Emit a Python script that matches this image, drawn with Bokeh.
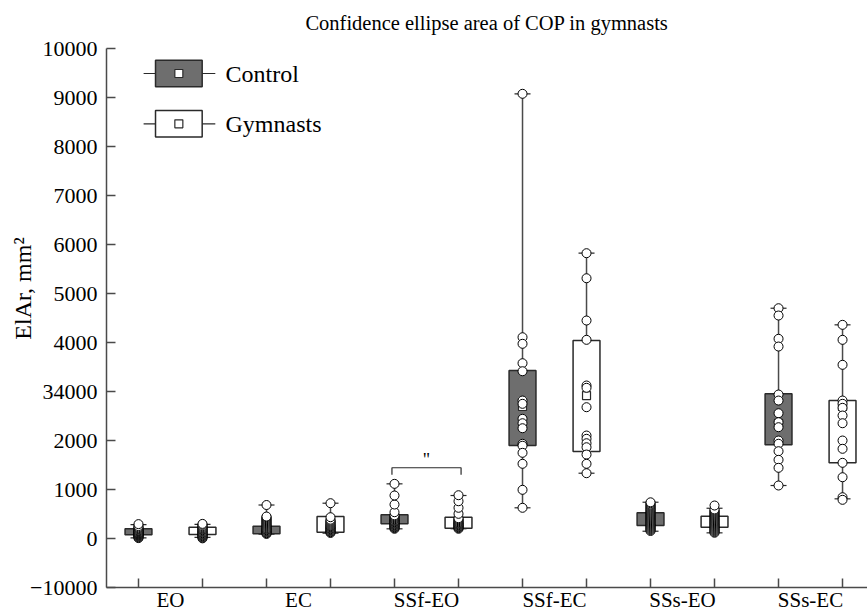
from math import pi
from bokeh.plotting import figure
from bokeh.models import Range1d, FixedTicker, Label
from bokeh.embed import file_html
from bokeh.resources import INLINE

# ---------------- data ----------------
groups = ["EO", "EC", "SSf-EO", "SSf-EC", "SSs-EO", "SSs-EC"]
series = ["Control", "Gymnasts"]

# one entry per box, ordered: group0-Control, group0-Gymnasts, group1-Control, ...
q1 = [85, 90, 102, 135, 306, 216, 1904, 1782, 271, 237, 1918, 1551]
q3 = [205, 235, 257, 455, 490, 441, 3435, 4047, 531, 461, 2959, 2822]
lo = [20, 30, 95, 115, 204, 206, 633, 1339, 155, 122, 1088, 816]
hi = [290, 295, 690, 727, 1122, 884, 9082, 5829, 747, 624, 4706, 4367]
mean = [150, 160, 200, 280, 380, 320, 2700, 2924, 400, 350, 2359, 2700]

points = [
    [15, 30, 45, 60, 70, 80, 90, 100, 110, 120, 130, 140, 150, 160, 170, 185, 200, 215, 235, 260, 300],
    [10, 25, 40, 55, 70, 85, 100, 115, 130, 145, 160, 175, 190, 205, 220, 240, 260, 285, 305],
    [100, 115, 130, 145, 160, 175, 190, 205, 220, 240, 260, 280, 300, 320, 340, 360, 380, 400, 420, 440, 455, 690],
    [120, 135, 150, 165, 180, 195, 210, 225, 240, 255, 270, 290, 310, 330, 350, 370, 390, 441, 727],
    [205, 220, 235, 250, 265, 280, 295, 310, 325, 340, 355, 370, 385, 400, 420, 440, 460, 480, 543, 700, 884, 1122],
    [205, 220, 235, 250, 265, 280, 295, 310, 325, 340, 360, 380, 400, 420, 510, 633, 767, 890],
    [9082, 4114, 3980, 3584, 3420, 2822, 2755, 2449, 2359, 2257, 1939, 1900, 1755, 1531, 1000, 633],
    [5829, 5318, 4455, 4061, 3129, 3082, 2686, 2108, 2041, 1951, 1869, 1720, 1531, 1339],
    [160, 180, 200, 220, 240, 260, 280, 300, 320, 340, 360, 380, 400, 420, 440, 460, 480, 500, 520, 540,
     560, 580, 600, 620, 640, 660, 680, 700, 725, 745],
    [124, 140, 160, 180, 200, 220, 240, 260, 280, 300, 320, 340, 360, 380, 400, 420, 440, 460, 480, 500,
     520, 540, 560, 580, 600, 680],
    [4706, 4557, 4082, 3924, 2945, 2822, 2563, 2380, 2278, 2006, 1940, 1788, 1612, 1449, 1088],
    [4367, 4061, 3551, 2822, 2755, 2673, 2516, 2359, 2006, 1837, 1551, 1257, 849, 796],
]

y_ticks = [-1000, 0, 1000, 2000, 3000, 4000, 5000, 6000, 7000, 8000, 9000, 10000]
y_tick_labels = ["\u221210000", "0", "1000", "2000", "34000", "4000", "5000",
                 "6000", "7000", "8000", "9000", "10000"]

# significance bracket between box 5 and box 6 (SSf-EO Control vs Gymnasts)
bracket_boxes = (5, 6)
bracket_y = 1450
bracket_leg = 1310
bracket_text = '"'

title_text = "Confidence ellipse area of COP in gymnasts"
y_title = "ElAr, mm\u00b2"

# ---------------- style / layout ----------------
FONT = "Liberation Serif"
DARK = "#6e6e6e"
LINE = "#4a4a4a"
EDGE = "#2a2a2a"
BOX_W = 0.42
CAP_W = 0.25
fills = [DARK, "white"]

X_AXIS_AT = -1000          # y value where the x axis sits
Y_AXIS_AT = 0.5            # x value where the y axis sits
X_END = 12.39
# full-canvas ranges so that outer texts stay inside the frame
X_RANGE = (-1.156, 12.39)
Y_RANGE = (-1524, 10986)

n_groups = len(groups)
pos = []
box_fill = []
for g in range(n_groups):
    for s in range(len(series)):
        pos.append(2 * g + s + 1)
        box_fill.append(fills[s])

p = figure(width=867, height=613, output_backend="svg", toolbar_location=None,
           x_range=Range1d(*X_RANGE), y_range=Range1d(*Y_RANGE),
           min_border_left=0, min_border_right=0, min_border_top=0, min_border_bottom=0)
p.outline_line_color = None
p.xgrid.visible = False
p.ygrid.visible = False
p.background_fill_color = "white"
p.border_fill_color = "white"

# whiskers
p.segment(x0=pos, y0=lo, x1=pos, y1=hi, line_color=LINE, line_width=1.5)
p.segment(x0=[x - CAP_W / 2 for x in pos], y0=lo, x1=[x + CAP_W / 2 for x in pos], y1=lo,
          line_color=EDGE, line_width=1.2)
p.segment(x0=[x - CAP_W / 2 for x in pos], y0=hi, x1=[x + CAP_W / 2 for x in pos], y1=hi,
          line_color=EDGE, line_width=1.2)
# boxes
p.vbar(x=pos, width=BOX_W, bottom=q1, top=q3, fill_color=box_fill, line_color=EDGE, line_width=1.5)
# means
p.scatter(x=pos, y=mean, marker="square", size=8, fill_color="white", line_color=EDGE, line_width=1.2)
# data points
px, py = [], []
for x, vals in zip(pos, points):
    for v in vals:
        px.append(x)
        py.append(v)
p.scatter(x=px, y=py, marker="circle", size=9, fill_color="white", line_color="black", line_width=1)

# significance bracket
b0, b1 = bracket_boxes
p.line(x=[b0 - 0.04, b0 - 0.04, b1 + 0.04, b1 + 0.04],
       y=[bracket_leg, bracket_y, bracket_y, bracket_leg], line_color=EDGE, line_width=1.2)
p.add_layout(Label(x=(b0 + b1) / 2, y=bracket_y + 150, text=bracket_text, text_font=FONT,
                   text_font_size="18px", text_align="center", text_baseline="middle",
                   text_color="black"))

# legend (drawn manually)
LEG_LINE = (1.08, 2.2)
LEG_BOX = (1.266, 1.995)
LEG_Y = [9496, 8469]
LEG_H = 270
for s, name in enumerate(series):
    yy = LEG_Y[s]
    p.line(x=list(LEG_LINE), y=[yy, yy], line_color=EDGE, line_width=1.2)
    p.quad(left=LEG_BOX[0], right=LEG_BOX[1], bottom=yy - LEG_H, top=yy + LEG_H,
           fill_color=fills[s], line_color=EDGE, line_width=1.5)
    p.scatter(x=[(LEG_BOX[0] + LEG_BOX[1]) / 2], y=[yy], marker="square", size=8,
              fill_color="white", line_color=EDGE, line_width=1.2)
    p.add_layout(Label(x=2.36, y=yy, text=name, text_font=FONT, text_font_size="24px",
                       text_baseline="middle", text_align="left", text_color="black"))

# axes
xa = p.xaxis[0]
xa.fixed_location = X_AXIS_AT
xa.bounds = (Y_AXIS_AT, X_END)
xa.ticker = FixedTicker(ticks=[2 * g + 1.5 for g in range(n_groups)], minor_ticks=pos)
xa.major_label_overrides = {2 * g + 1.5: groups[g] for g in range(n_groups)}
xa.major_tick_in = 0
xa.major_tick_out = 0
xa.minor_tick_in = 9
xa.minor_tick_out = 0
xa.major_label_standoff = 0
xa.major_label_text_font = FONT
xa.major_label_text_font_size = "21px"
xa.major_label_text_color = "black"
xa.axis_line_color = LINE
xa.axis_line_width = 1.5
xa.minor_tick_line_color = LINE
xa.minor_tick_line_width = 1.5

ya = p.yaxis[0]
ya.fixed_location = Y_AXIS_AT
ya.bounds = (y_ticks[0], y_ticks[-1])
ya.ticker = FixedTicker(ticks=y_ticks, minor_ticks=[])
ya.major_label_overrides = {t: l for t, l in zip(y_ticks, y_tick_labels)}
ya.major_tick_in = 9
ya.major_tick_out = 0
ya.minor_tick_in = 0
ya.minor_tick_out = 0
ya.major_label_standoff = 9
ya.major_label_text_font = FONT
ya.major_label_text_font_size = "22px"
ya.major_label_text_color = "black"
ya.axis_line_color = LINE
ya.axis_line_width = 1.5
ya.major_tick_line_color = LINE
ya.major_tick_line_width = 1.5

# axis title and chart title as labels
p.add_layout(Label(x=-0.81, y=5108, text=y_title, angle=pi / 2, text_font=FONT,
                   text_font_size="24px", text_align="center", text_baseline="middle",
                   text_color="black"))
p.add_layout(Label(x=6.445, y=10537, text=title_text, text_font=FONT,
                   text_font_size="20.5px", text_align="center", text_baseline="middle",
                   text_color="black"))

open("out.html", "w").write(file_html(p, INLINE))
